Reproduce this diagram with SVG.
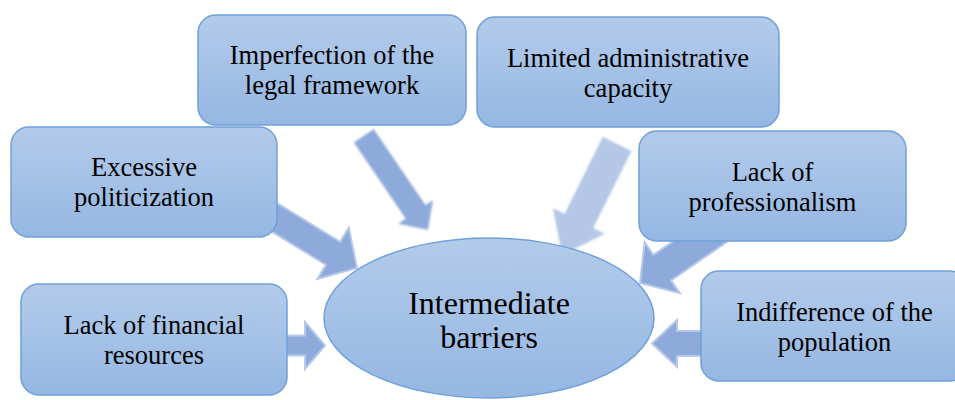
<svg xmlns="http://www.w3.org/2000/svg" width="955" height="400" viewBox="0 0 955 400" font-family="'Liberation Serif', 'DejaVu Serif', serif">
  <defs>
    <linearGradient id="nodeFill" x1="0" y1="0" x2="0" y2="1">
      <stop offset="0" stop-color="#b3cbea"/>
      <stop offset="1" stop-color="#95b7e3"/>
    </linearGradient>
    <filter id="soft" x="-20%" y="-20%" width="140%" height="140%">
      <feGaussianBlur stdDeviation="1.3"/>
    </filter>
  </defs>
  <style>
    .box { fill: url(#nodeFill); stroke: #6fa1d8; stroke-width: 1.5; }
    .label { font-size: 26.5px; fill: #000; text-anchor: middle; }
    .big { font-size: 32px; }
    .arrow { fill: #8eaadb; stroke: #b7c9ea; stroke-width: 2; stroke-linejoin: miter; }
    .arrow-soft { fill: #8eaadb; stroke: none; filter: url(#soft); }
    .arrow-pale { fill: #b4c7e7; stroke: none; filter: url(#soft); }
  </style>

  <!-- block arrows pointing into the central ellipse -->
  <g id="connectors">
    <polygon class="arrow" transform="translate(357,268) rotate(31.5)"
             points="-115,-13.5 -28,-13.5 -28,-30 0,0 -28,30 -28,13.5 -115,13.5"/>
    <polygon class="arrow-soft" transform="translate(428,230) rotate(55.7)"
             points="-114,-12 -22,-12 -22,-21 0,0 -22,21 -22,12 -114,12"/>
    <polygon class="arrow-pale" transform="translate(562,255) rotate(116.4)"
             points="-124,-16 -38,-16 -38,-29 0,0 -38,29 -38,16 -124,16"/>
    <polygon class="arrow" transform="translate(640,283) rotate(145.4)"
             points="-105,-15.5 -27,-15.5 -27,-31 0,0 -27,31 -27,15.5 -105,15.5"/>
    <polygon class="arrow" transform="translate(325,345.5)"
             points="-45,-10 -20,-10 -20,-23.5 0,0 -20,23.5 -20,10 -45,10"/>
    <polygon class="arrow" transform="translate(652,343.5) rotate(180)"
             points="-58,-12.5 -25,-12.5 -25,-23.5 0,0 -25,23.5 -25,12.5 -58,12.5"/>
  </g>

  <g id="node-legal">
    <rect class="box" x="198" y="15" width="268" height="110" rx="18"/>
    <text class="label" x="332" y="64">Imperfection of the</text>
    <text class="label" x="332" y="94">legal framework</text>
  </g>

  <g id="node-admin">
    <rect class="box" x="477" y="17" width="302" height="110" rx="18"/>
    <text class="label" x="628" y="67">Limited administrative</text>
    <text class="label" x="628" y="97">capacity</text>
  </g>

  <g id="node-politics">
    <rect class="box" x="11" y="127" width="266" height="110" rx="18"/>
    <text class="label" x="144" y="176">Excessive</text>
    <text class="label" x="144" y="206">politicization</text>
  </g>

  <g id="node-professionalism">
    <rect class="box" x="639" y="131" width="267" height="110" rx="18"/>
    <text class="label" x="772.5" y="181">Lack of</text>
    <text class="label" x="772.5" y="211">professionalism</text>
  </g>

  <g id="node-finance">
    <rect class="box" x="21" y="284" width="266" height="111" rx="18"/>
    <text class="label" x="154" y="334">Lack of financial</text>
    <text class="label" x="154" y="364">resources</text>
  </g>

  <g id="node-population">
    <rect class="box" x="701" y="271" width="267" height="110" rx="18"/>
    <text class="label" x="834.5" y="321">Indifference of the</text>
    <text class="label" x="834.5" y="351">population</text>
  </g>

  <g id="node-center">
    <ellipse class="box" cx="489" cy="318" rx="165" ry="80"/>
    <text class="label big" x="489" y="314">Intermediate</text>
    <text class="label big" x="489" y="348">barriers</text>
  </g>
</svg>
